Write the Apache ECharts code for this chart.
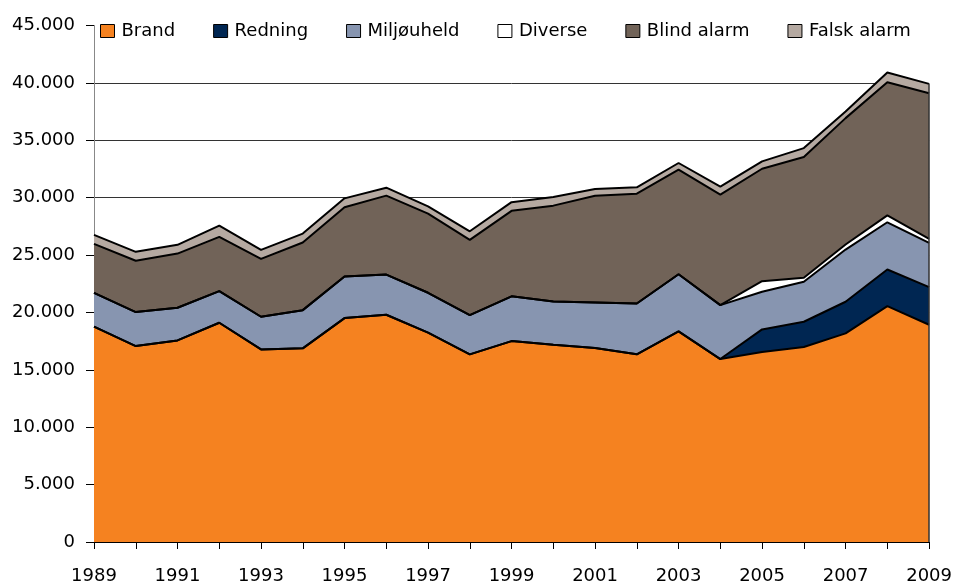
<!DOCTYPE html>
<html>
<head>
<meta charset="utf-8">
<script src="https://cdn.jsdelivr.net/npm/echarts@6/dist/echarts.min.js"></script>
<style>
  html, body { margin: 0; padding: 0; background: #fff; }
  #chart { width: 955px; height: 585px; }
</style>
</head>
<body>
<div id="chart"></div>
<script>
// Data (stacked areas)
var years = ['1989','1990','1991','1992','1993','1994','1995','1996','1997','1998','1999',
             '2000','2001','2002','2003','2004','2005','2006','2007','2008','2009'];
var brand     = [18760,17070,17565,19100,16780,16870,19510,19800,18235,16350,17505,
                 17190,16900,16350,18350,15940,16550,16985,18175,20550,18930];
var redning   = [0,0,0,0,0,0,0,0,0,0,0,0,0,0,0,0,1970,2205,2755,3190,3270];
var miljo     = [2950,2960,2845,2755,2845,3330,3620,3500,3480,3420,3900,
                 3765,3970,4430,4980,4700,3280,3480,4550,4115,3860];
var diverse   = [0,0,0,0,0,0,0,0,0,0,0,0,0,0,0,0,925,345,435,605,350];
var blind     = [4265,4470,4720,4730,5045,5890,6030,6875,6895,6550,7450,
                 8350,9305,9570,9105,9620,9795,10525,11015,11600,12695];
var falsk     = [785,780,760,985,780,780,780,695,635,750,755,
                 755,585,550,585,700,640,780,580,840,810];

var names = ['Brand', 'Redning', 'Miljøuheld', 'Diverse', 'Blind alarm', 'Falsk alarm'];
var colors = ['#F58220', '#002652', '#8795B0', '#FFFFFF', '#716358', '#B5A9A1'];
var values = [brand, redning, miljo, diverse, blind, falsk];

var myChart = echarts.init(document.getElementById('chart'));

var fontFamily = '"DejaVu Sans", Verdana, sans-serif';

// total of the last year, used for the closing edge on the right
var last = years.length - 1;
var lastTotal = values.reduce(function (s, arr) { return s + arr[last]; }, 0);

var series = names.map(function (name, i) {
  var s = {
    name: name,
    type: 'line',
    stack: 'total',
    data: values[i],
    symbol: 'none',
    lineStyle: { color: '#000', width: 2 },
    itemStyle: { color: colors[i] },
    areaStyle: { color: colors[i], opacity: 1 },
    emphasis: { disabled: true }
  };
  if (i === names.length - 1) {
    s.markLine = {
      silent: true,
      symbol: 'none',
      label: { show: false },
      lineStyle: { color: '#333', width: 1.5, type: 'solid' },
      data: [[{ coord: [years[last], 0] }, { coord: [years[last], lastTotal] }]]
    };
  }
  return s;
});

var option = {
  animation: false,
  textStyle: { fontFamily: fontFamily },
  legend: {
    data: names,
    left: 100,
    top: 22,
    padding: 0,
    icon: 'rect',
    itemWidth: 14,
    itemHeight: 13,
    itemGap: 38,
    textStyle: { fontSize: 18, color: '#000', fontFamily: fontFamily, padding: [0, 0, 0, 2] },
    itemStyle: { borderColor: '#000', borderWidth: 1 }
  },
  grid: { left: 94, right: 24, top: 25.5, bottom: 42 },
  xAxis: {
    type: 'category',
    data: years,
    boundaryGap: false,
    axisLine: { lineStyle: { color: '#000', width: 1 } },
    axisTick: { show: true, interval: 0, length: 7, lineStyle: { color: '#000' } },
    axisLabel: { interval: 1, fontSize: 18, color: '#000', margin: 25, fontFamily: fontFamily }
  },
  yAxis: {
    type: 'value',
    min: 0,
    max: 45000,
    interval: 5000,
    axisLine: { show: true, lineStyle: { color: '#888', width: 1 } },
    axisTick: { show: true, length: 8, lineStyle: { color: '#000' } },
    axisLabel: {
      fontSize: 18, color: '#000', margin: 19, fontFamily: fontFamily,
      formatter: function (v) { return String(v).replace(/\B(?=(\d{3})+(?!\d))/g, '.'); }
    },
    splitLine: { show: true, showMaxLine: false, lineStyle: { color: '#333', width: 1 } }
  },
  series: series
};

myChart.setOption(option);
</script>
</body>
</html>
